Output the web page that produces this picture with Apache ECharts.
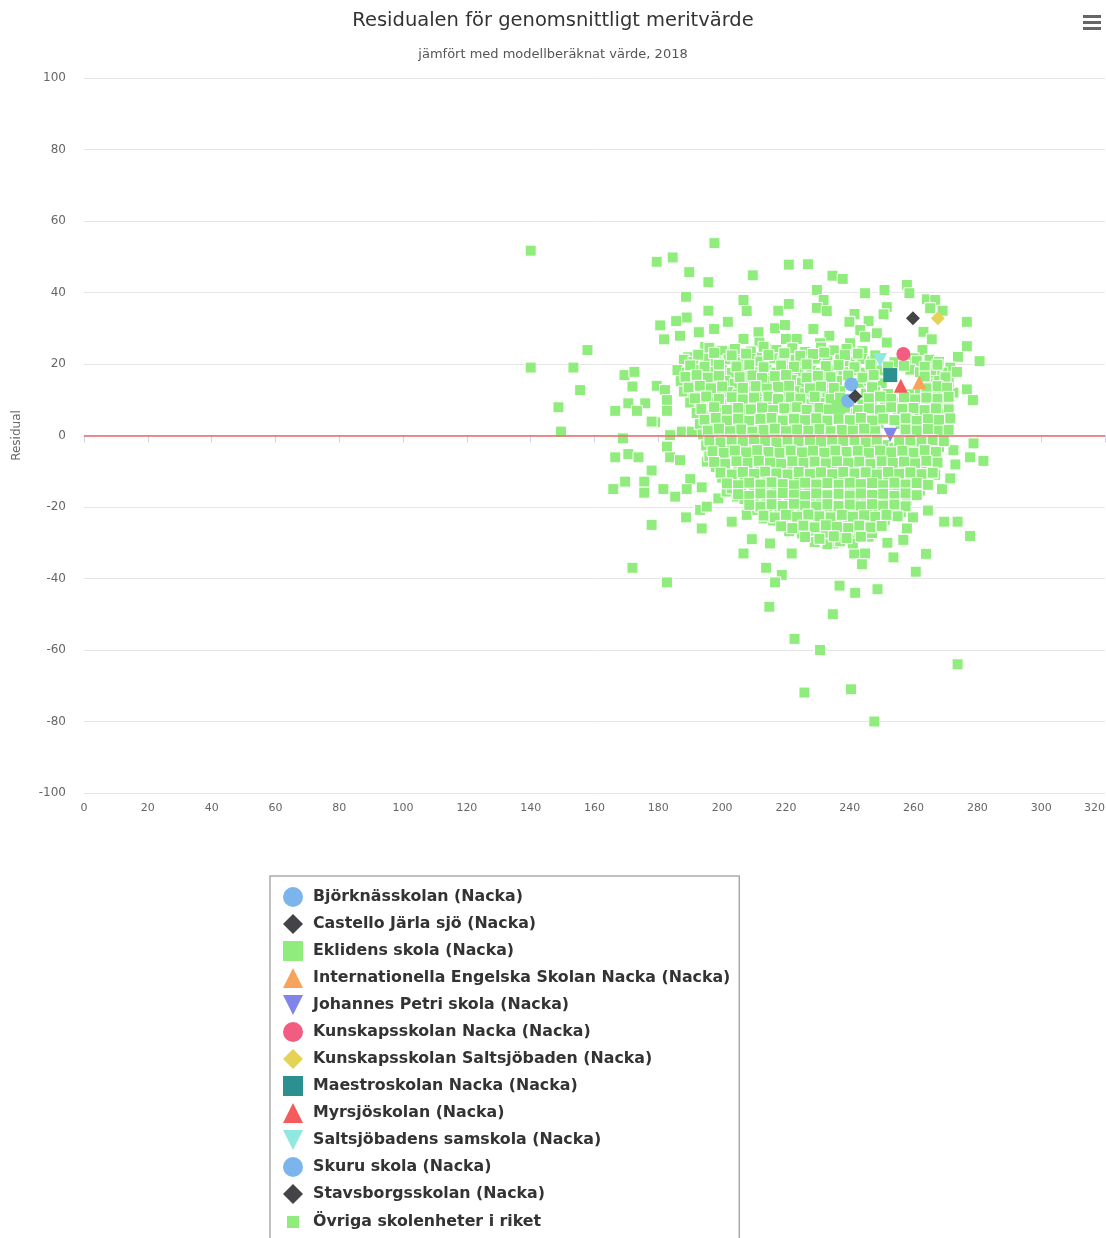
<!DOCTYPE html>
<html><head><meta charset="utf-8">
<script src="https://cdn.jsdelivr.net/npm/echarts@6/dist/echarts.min.js"></script>
<style>html,body{margin:0;padding:0;background:#fff;overflow:hidden}#c{width:1106px;height:1238px}</style>
</head><body><div id="c"></div>
<script>
const titleText = 'Residualen för genomsnittligt meritvärde';
const subtitleText = 'jämfört med modellberäknat värde, 2018';
const yAxisName = 'Residual';
const xTicks = {min: 0, max: 320, interval: 20};
const yTicks = {min: -100, max: 100, interval: 20};

const schoolNames = [
  'Björknässkolan (Nacka)', 'Castello Järla sjö (Nacka)', 'Eklidens skola (Nacka)',
  'Internationella Engelska Skolan Nacka (Nacka)', 'Johannes Petri skola (Nacka)',
  'Kunskapsskolan Nacka (Nacka)', 'Kunskapsskolan Saltsjöbaden (Nacka)', 'Maestroskolan Nacka (Nacka)',
  'Myrsjöskolan (Nacka)', 'Saltsjöbadens samskola (Nacka)', 'Skuru skola (Nacka)', 'Stavsborgsskolan (Nacka)'
];
const schoolX = [240.5, 259.8, 236.5, 261.8, 252.7, 256.8, 267.6, 252.7, 256.0, 249.5, 239.5, 241.7];
const schoolY = [14.3, 32.8, 8.0, 14.9, 0.2, 22.8, 32.8, 16.9, 13.9, 21.1, 9.7, 11.0];
const otherName = 'Övriga skolenheter i riket';

// scattered schools outside the dense core
const otherOuter = [
[140,51.7],[179.5,48.6],[184.5,49.8],[197.6,53.8],[189.7,45.7],[195.7,42.9],[209.6,44.8],[220.9,47.8],[226.9,47.9],[234.6,44.7],[237.8,43.8],
[188.7,38.8],[206.7,37.9],[207.7,34.8],[195.7,34.9],[217.6,34.9],[220.9,36.8],[229.7,40.7],[231.8,37.9],[229.7,35.7],[232.8,34.8],[241.5,34],[239.9,31.8],
[244.8,39.8],[250.9,40.7],[257.9,42.1],[258.7,39.8],[264.2,38.1],[266.8,37.9],[269.1,34.9],[265.2,35.6],[251.6,35.9],[250.6,33.9],[245.9,32],
[188.9,33],[185.6,32],[201.8,31.8],[180.6,30.8],[197.5,29.8],[192.7,28.9],[186.8,27.9],[211.4,28.9],[216.6,30],[219.7,30.9],[181.8,26.9],[206.7,27],
[211.7,26],[220,27],[228.6,29.8],[233.6,27.9],[223.4,27],[230.7,25.8],[240.1,25.8],[243.3,29.5],[248.5,28.6],[263.1,29],[265.7,26.9],[244.8,27.6],[251.6,26],
[276.7,31.8],[276.7,25],[262.8,23.9],[260,21.6],[273.9,22],[280.7,20.8],[271.5,19],[273.6,17.8],[276.7,12.9],[278.6,9.9],[272.5,12],[266.8,17.4],
[194.7,24.8],[157.8,23.9],[140,19],[153.4,19],[155.5,12.7],[148.7,7.9],[149.5,1.1],[169.4,16.9],[172.5,17.8],[171.9,13.7],[179.5,13.9],[182.1,12.7],
[170.6,9],[175.9,9],[166.5,6.9],[173.3,6.9],[179,3.7],[182.7,9.9],[182.7,6.9],[168.9,-0.8],[183.7,0.1],[187.6,17.8],[189.4,21.9],[200.9,23],[216.6,24.2],
[205.6,21.9],[210.9,21.9],[222.7,21.9],[232.8,21.9],[227.6,20.6],[218.9,20.6],
[177.9,3.9],[187.4,1.1],[190.5,1.1],[182.7,-3.1],[166.5,-6.1],[170.6,-5.2],[173.8,-6.1],[183.7,-6.1],[186.8,-6.9],[177.9,-9.8],[190,-12.2],[169.6,-12.9],
[175.6,-12.9],[165.9,-15],[175.6,-16],[181.6,-15],[185.3,-17.1],[188.9,-15],[193.6,-14.5],[195.2,-7.3],[198.8,-17.6],[193.1,-20.8],[188.7,-22.9],[177.9,-25],
[193.6,-26],[195.2,-19.9],[203,-24.1],[207.7,-22.2],[209.3,-29],[215,-30.2],[206.7,-33],[221.8,-33],[201.4,-15.7],[204.6,-17.1],
[171.9,-37],[182.7,-41.1],[213.8,-37],[218.7,-39],[216.6,-41.1],[236.8,-42],[214.8,-47.9],[234.7,-50],[222.7,-56.9],[230.7,-60],[225.8,-71.9],[213,-23.2],
[278.8,-2.2],[277.7,-6.1],[281.9,-7.1],[272.5,-4.1],[273.1,-8.1],[271.8,-12.2],[268.9,-15],[266.8,-11],[262.9,-12.2],[264.5,-21],[269.6,-24.1],[273.8,-24.1],
[277.7,-28.1],[259.8,-22.9],[257.9,-26],[256.8,-29.2],[263.9,-33.1],[260.7,-38.1],[253.7,-34.1],[251.8,-30],[250.8,-23.9],[244.8,-23.2],[245.9,-28.3],
[241.4,-33],[244.8,-33],[243.8,-36],[240.7,-30],[234.9,-30.2],[241.7,-44],[248.7,-43],[273.8,-64],[240.4,-71],[247.7,-80],[266.8,-6.9],[271.5,-12]
];

// dense core of the cloud, read row by row
const otherCore = [
[196,24.5],[200,23.7],[204,24.2],[209,23.5],[213,24.8],[217,23.9],[222,24.4],[226,23.4],[231,24.6],[235,23.8],[239,24.2],[244,23.6],
[188,21.2],[191,20.6],[195,21.5],[198,20.8],[202,21.3],[205,20.5],[209,21.4],[212,20.7],[216,21.6],[219,20.9],[223,21.2],[226,20.4],[230,21.5],[233,20.8],[237,21.3],[240,20.6],[244,21.4],[247,20.7],[254,20.5],[261,20.8],[265,21.2],[268,20.6],
[186,18.3],[189,17.6],[193,18.4],[196,17.8],[200,18.2],[203,17.5],[207,18.5],[210,17.7],[214,18.3],[217,17.6],[221,18.4],[224,17.8],[228,18.1],[231,17.5],[235,18.4],[238,17.7],[242,18.3],[245,17.6],[249,18.2],[259,18.4],[262,17.7],[266,18.3],[269,17.6],
[187,15.2],[190,14.6],[194,15.4],[197,14.8],[201,15.3],[204,14.5],[208,15.4],[211,14.7],[215,15.2],[218,14.6],[222,15.5],[225,14.8],[229,15.1],[232,14.4],[236,15.3],[243,14.7],[246,15.4],[250,14.6],[265,14.5],[268,15.3],[271,14.7],
[188,12.3],[191,11.6],[195,12.4],[198,11.8],[202,12.2],[205,11.5],[209,12.5],[212,11.7],[216,12.3],[219,11.6],[223,12.4],[226,11.8],[230,12.1],[233,11.5],[237,12.4],[245,11.7],[248,12.3],[252,11.6],[259,11.5],[262,12.4],[266,11.8],[269,12.2],
[190,9.2],[193,8.6],[197,9.4],[200,8.8],[204,9.3],[207,8.5],[211,9.4],[214,8.7],[218,9.2],[221,8.6],[225,9.5],[228,8.8],[232,9.1],[235,8.4],[244,8.7],[247,9.4],[251,8.6],[254,9.2],[258,8.5],[261,9.3],[265,8.7],[268,9.4],[271,8.6],
[192,6.3],[195,5.6],[199,6.4],[202,5.8],[206,6.2],[209,5.5],[213,6.5],[216,5.7],[220,6.3],[223,5.6],[227,6.4],[230,5.8],[234,6.1],[237,5.5],[241,6.4],[244,5.7],[248,6.3],[251,5.6],[255,6.2],[258,5.5],[262,6.4],[265,5.8],[269,6.2],
[193,3.2],[196,2.6],[200,3.4],[203,2.8],[207,3.3],[210,2.5],[214,3.4],[217,2.7],[221,3.2],[224,2.6],[228,3.5],[231,2.8],[235,3.1],[238,2.4],[242,3.3],[245,2.7],[249,3.4],[256,3.2],[259,2.5],[263,3.3],[266,2.7],[270,3.1],
[194,0.3],[197,-0.4],[201,0.4],[204,-0.2],[208,0.2],[211,-0.5],[215,0.5],[218,-0.3],[222,0.3],[225,-0.4],[229,0.4],[232,-0.2],[236,0.1],[239,-0.5],[243,0.4],[246,-0.3],[258,0.2],[261,-0.5],[264,0.4],[268,-0.2],
[195,-2.8],[198,-3.4],[202,-2.6],[205,-3.2],[209,-2.7],[212,-3.5],[216,-2.5],[219,-3.3],[223,-2.7],[226,-3.4],[230,-2.6],[233,-3.2],[237,-2.9],[240,-3.5],[244,-2.6],[247,-3.3],[251,-2.7],[254,-3.4],[258,-2.8],[261,-3.5],[265,-2.6],[268,-3.2],
[196,-5.8],[199,-6.4],[203,-5.6],[206,-6.2],[210,-5.7],[213,-6.5],[217,-5.5],[220,-6.3],[224,-5.7],[227,-6.4],[231,-5.6],[234,-6.2],[238,-5.9],[241,-6.5],[245,-5.6],[248,-6.3],[252,-5.7],[255,-6.4],[259,-5.8],[262,-6.5],[266,-5.6],
[198,-8.8],[201,-9.4],[205,-8.6],[208,-9.2],[212,-8.7],[215,-9.5],[219,-8.5],[222,-9.3],[226,-8.7],[229,-9.4],[233,-8.6],[236,-9.2],[240,-8.9],[243,-9.5],[247,-8.6],[250,-9.3],[254,-8.7],[257,-9.4],[261,-8.8],[264,-9.5],
[200,-11.8],[203,-12.4],[207,-11.6],[210,-12.2],[214,-11.7],[217,-12.5],[221,-11.5],[224,-12.3],[228,-11.7],[231,-12.4],[235,-11.6],[238,-12.2],[242,-11.9],[245,-12.5],[249,-11.6],[252,-12.3],[256,-11.7],[259,-12.4],[263,-11.8],
[203,-14.8],[206,-15.4],[210,-14.6],[213,-15.2],[217,-14.7],[220,-15.5],[224,-14.5],[227,-15.3],[231,-14.7],[234,-15.4],[238,-14.6],[241,-15.2],[245,-14.9],[248,-15.5],[252,-14.6],[255,-15.3],[259,-14.7],[262,-15.4],
[207,-17.8],[210,-18.4],[214,-17.6],[217,-18.2],[221,-17.7],[224,-18.5],[228,-17.5],[231,-18.3],[235,-17.7],[238,-18.4],[242,-17.6],[245,-18.2],[249,-17.9],[252,-18.5],[256,-17.6],[258,-18.2],
[211,-20.8],[214,-21.4],[218,-20.6],[221,-21.2],[225,-20.7],[228,-21.5],[232,-20.5],[235,-21.3],[239,-20.7],[242,-21.4],[246,-20.6],[249,-21.2],[253,-20.9],[256,-21.5],
[216,-23.8],[219,-24.4],[223,-23.6],[226,-24.2],[230,-23.7],[233,-24.5],[237,-23.5],[240,-24.3],[244,-23.7],[247,-24.4],[251,-23.6],
[221,-26.8],[225,-27.4],[229,-26.6],[232,-27.2],[236,-26.7],[240,-27.5],[243,-26.5],[247,-27.3],
[229,-29.8],[233,-30.4],[237,-29.6],[241,-30.2]
];

// second, overlapping layer of the core (between the rows above)
const otherCoreFill = [
[192.5,22.6],[197.5,23.1],[203,22.4],[207.5,22.9],[214.5,22.5],[219.5,23.0],[224.5,22.3],[228.5,22.8],[232,23.2],[238.5,22.5],[242.5,22.9],[248,22.4],
[190,19.6],[194.5,19.2],[199,19.8],[204.5,19.3],[208.5,19.7],[213,19.1],[218.5,19.6],[222.5,19.2],[226.5,19.9],[232.5,19.4],[236.5,19.7],[241.5,19.1],[246.5,19.8],[252,19.3],[257,19.5],[263.5,19.2],[267.5,19.8],
[188.5,16.4],[192,16.9],[195.5,16.2],[199,16.7],[205.5,16.3],[209.5,16.8],[212.5,16.1],[216.5,16.6],[220,16.9],[226.5,16.2],[230,16.7],[234,16.3],[239.5,16.8],[244,16.2],[247.5,16.9],[263.5,16.5],[270,16.3],
[189.5,13.4],[193,13.9],[196.5,13.2],[200,13.7],[206.5,13.3],[210.5,13.8],[214,13.1],[217.5,13.6],[221,13.9],[227.5,13.2],[231,13.7],[235,13.3],[247,13.5],[264,13.2],[267.5,13.8],[270.5,13.4],
[191.5,10.4],[195,10.9],[199,10.2],[203,10.7],[206.5,10.1],[210,10.6],[214.5,10.9],[217.5,10.2],[221.5,10.7],[224.5,10.3],[229,10.8],[234,10.2],[237,10.6],[246,10.4],[249.5,10.9],[253,10.2],[257,10.7],[260.5,10.1],[264,10.6],[267.5,10.3],[271,10.8],
[193.5,7.4],[197.5,7.9],[201.5,7.2],[205,7.7],[209,7.3],[212.5,7.8],[216,7.1],[219.5,7.6],[223.5,7.9],[226.5,7.2],[230.5,7.7],[233.5,7.3],[238.5,7.8],[242.5,7.1],[246,7.6],[249.5,7.2],[253,7.9],[256.5,7.4],[260,7.7],[263.5,7.1],[267,7.6],[271,7.3],
[194.5,4.4],[198,4.9],[201.5,4.2],[205,4.7],[208.5,4.1],[212,4.6],[215.5,4.9],[219,4.2],[222.5,4.7],[226,4.3],[229.5,4.8],[233,4.2],[236.5,4.6],[240,4.3],[243.5,4.9],[247,4.2],[250.5,4.7],[254,4.3],[257.5,4.8],[261,4.1],[264.5,4.6],[268,4.4],[271.5,4.8],
[195.5,1.4],[199,1.9],[202.5,1.2],[206,1.7],[209.5,1.1],[213,1.6],[216.5,1.9],[220,1.2],[223.5,1.7],[227,1.3],[230.5,1.8],[234,1.2],[237.5,1.6],[241,1.3],[244.5,1.9],[248,1.2],[257.5,1.7],[261,1.4],[264.5,1.8],[268,1.3],[271,1.6],
[196,-1.4],[199.5,-1.9],[203,-1.2],[206.5,-1.7],[210,-1.1],[213.5,-1.6],[217,-1.9],[220.5,-1.2],[224,-1.7],[227.5,-1.3],[231,-1.8],[234.5,-1.2],[238,-1.6],[241.5,-1.3],[245,-1.9],[248.5,-1.2],[255.5,-1.7],[259,-1.4],[262.5,-1.8],[266,-1.3],[269.5,-1.6],
[197,-4.4],[200.5,-4.9],[204,-4.2],[207.5,-4.7],[211,-4.1],[214.5,-4.6],[218,-4.9],[221.5,-4.2],[225,-4.7],[228.5,-4.3],[232,-4.8],[235.5,-4.2],[239,-4.6],[242.5,-4.3],[246,-4.9],[249.5,-4.2],[253,-4.7],[256.5,-4.3],[260,-4.8],[263.5,-4.1],[267,-4.6],
[197.5,-7.4],[201,-7.9],[204.5,-7.2],[208,-7.7],[211.5,-7.1],[215,-7.6],[218.5,-7.9],[222,-7.2],[225.5,-7.7],[229,-7.3],[232.5,-7.8],[236,-7.2],[239.5,-7.6],[243,-7.3],[246.5,-7.9],[250,-7.2],[253.5,-7.7],[257,-7.3],[260.5,-7.8],[264,-7.1],[267.5,-7.6],
[199.5,-10.4],[203,-10.9],[206.5,-10.2],[210,-10.7],[213.5,-10.1],[217,-10.6],[220.5,-10.9],[224,-10.2],[227.5,-10.7],[231,-10.3],[234.5,-10.8],[238,-10.2],[241.5,-10.6],[245,-10.3],[248.5,-10.9],[252,-10.2],[255.5,-10.7],[259,-10.3],[262.5,-10.8],[266,-10.4],
[201.5,-13.4],[205,-13.9],[208.5,-13.2],[212,-13.7],[215.5,-13.1],[219,-13.6],[222.5,-13.9],[226,-13.2],[229.5,-13.7],[233,-13.3],[236.5,-13.8],[240,-13.2],[243.5,-13.6],[247,-13.3],[250.5,-13.9],[254,-13.2],[257.5,-13.7],[261,-13.3],[264.5,-13.8],
[205,-16.4],[208.5,-16.9],[212,-16.2],[215.5,-16.7],[219,-16.1],[222.5,-16.6],[226,-16.9],[229.5,-16.2],[233,-16.7],[236.5,-16.3],[240,-16.8],[243.5,-16.2],[247,-16.6],[250.5,-16.3],[254,-16.9],[257.5,-16.2],[261,-16.7],
[208.5,-19.4],[212,-19.9],[215.5,-19.2],[219,-19.7],[222.5,-19.1],[226,-19.6],[229.5,-19.9],[233,-19.2],[236.5,-19.7],[240,-19.3],[243.5,-19.8],[247,-19.2],[250.5,-19.6],[254,-19.3],[257.5,-19.8],
[213,-22.4],[216.5,-22.9],[220,-22.2],[223.5,-22.7],[227,-22.1],[230.5,-22.6],[234,-22.9],[237.5,-22.2],[241,-22.7],[244.5,-22.3],[248,-22.8],[251.5,-22.2],[255,-22.6],
[218.5,-25.4],[222,-25.9],[225.5,-25.2],[229,-25.7],[232.5,-25.1],[236,-25.6],[239.5,-25.9],[243,-25.2],[246.5,-25.7],[250,-25.3],
[226,-28.4],[230.5,-28.9],[235,-28.2],[239,-28.7],[243.5,-28.3]
];

// styles (kept apart from the data)
const schoolColors = ['#7cb5ec','#434348','#90ed7d','#f7a35c','#8085e9','#f15c80','#e4d354','#2b908f','#f45b5b','#91e8e1','#7cb5ec','#434348'];
const triDown = 'path://M0,0L10,0L5,10Z';
const schoolSymbols = ['circle','diamond','rect','triangle',triDown,'circle','diamond','rect','triangle',triDown,'circle','diamond'];
const iconDiamond = 'path://M5,0L10,5L5,10L0,5Z';
const iconTriangle = 'path://M5,0L10,10L0,10Z';
const iconTriDown = 'path://M0,0L10,0L5,10Z';
const iconSquare = 'path://M0,0L10,0L10,10L0,10Z';
const legendIcons = ['circle', iconDiamond, iconSquare, iconTriangle, iconTriDown, 'circle', iconDiamond, iconSquare, iconTriangle, iconTriDown, 'circle', iconDiamond];
const smallSquareIcon = 'path://M0,0L0.01,0M20,20L20.01,20M3,3L17,3L17,17L3,17Z';

const chart = echarts.init(document.getElementById('c'), null, {renderer: 'canvas'});
const series = [];
series.push({
  name: '__zero', type: 'scatter', data: [], z: 1, silent: true,
  markLine: {silent: true, symbol: ['none','none'], label: {show: false},
    lineStyle: {color: '#ea6b6b', width: 1.5, type: 'solid'}, data: [{yAxis: 0}]}
});
schoolNames.forEach((n, i) => {
  series.push({
    name: n, type: 'scatter', z: 4,
    symbol: schoolSymbols[i], symbolSize: 14,
    itemStyle: {color: schoolColors[i], opacity: 1},
    data: [[schoolX[i], schoolY[i]]]
  });
});
series.push({
  name: otherName, type: 'scatter', z: 2, symbol: 'rect', symbolSize: 11,
  itemStyle: {color: '#90ed7d', borderColor: '#ffffff', borderWidth: 1, opacity: 1},
  data: otherOuter.concat(otherCore, otherCoreFill)
});

const legendData = schoolNames.map((n, i) => ({name: n, icon: legendIcons[i]}));
legendData.push({name: otherName, icon: smallSquareIcon});

chart.setOption({
  animation: false,
  backgroundColor: '#ffffff',
  title: [
    {text: titleText, left: 'center', top: 6, textStyle: {fontFamily: 'DejaVu Sans', fontSize: 19.5, fontWeight: 'normal', color: '#333333'}},
    {text: subtitleText, left: 'center', top: 43, textStyle: {fontFamily: 'DejaVu Sans', fontSize: 13, fontWeight: 'normal', color: '#555555'}}
  ],
  grid: {left: 84, right: 1, top: 78, bottom: 445, containLabel: false, outerBoundsMode: 'none'},
  xAxis: {
    type: 'value', min: xTicks.min, max: xTicks.max, interval: xTicks.interval,
    axisLine: {show: true, lineStyle: {color: '#ccd6eb', width: 1}},
    axisTick: {show: true, length: 7, lineStyle: {color: '#ccd6eb'}},
    axisLabel: {color: '#666666', fontFamily: 'DejaVu Sans', fontSize: 11, margin: 10, alignMaxLabel: 'right'},
    splitLine: {show: false}
  },
  yAxis: {
    type: 'value', min: yTicks.min, max: yTicks.max, interval: yTicks.interval,
    name: yAxisName, nameLocation: 'middle', nameGap: 61,
    nameTextStyle: {color: '#666666', fontFamily: 'DejaVu Sans', fontSize: 12},
    axisLine: {show: false}, axisTick: {show: false},
    axisLabel: {color: '#666666', fontFamily: 'DejaVu Sans', fontSize: 12, margin: 18},
    splitLine: {show: true, lineStyle: {color: '#e6e6e6', width: 1}}
  },
  legend: {
    type: 'plain', orient: 'vertical', left: 270, top: 876, height: 420,
    padding: [11, 9, 10, 12],
    itemWidth: 30, itemHeight: 20, itemGap: 7, symbolKeepAspect: true,
    borderColor: '#aaaaaa', borderWidth: 1.5, borderRadius: 0,
    textStyle: {fontFamily: 'DejaVu Sans', fontWeight: 'bold', fontSize: 15.8, color: '#333333'},
    data: legendData
  },
  graphic: [
    {type: 'rect', left: 1083, top: 15, shape: {width: 18, height: 3}, style: {fill: '#666666'}},
    {type: 'rect', left: 1083, top: 21, shape: {width: 18, height: 3}, style: {fill: '#666666'}},
    {type: 'rect', left: 1083, top: 27, shape: {width: 18, height: 3}, style: {fill: '#666666'}}
  ],
  series: series
});
</script>
</body></html>
